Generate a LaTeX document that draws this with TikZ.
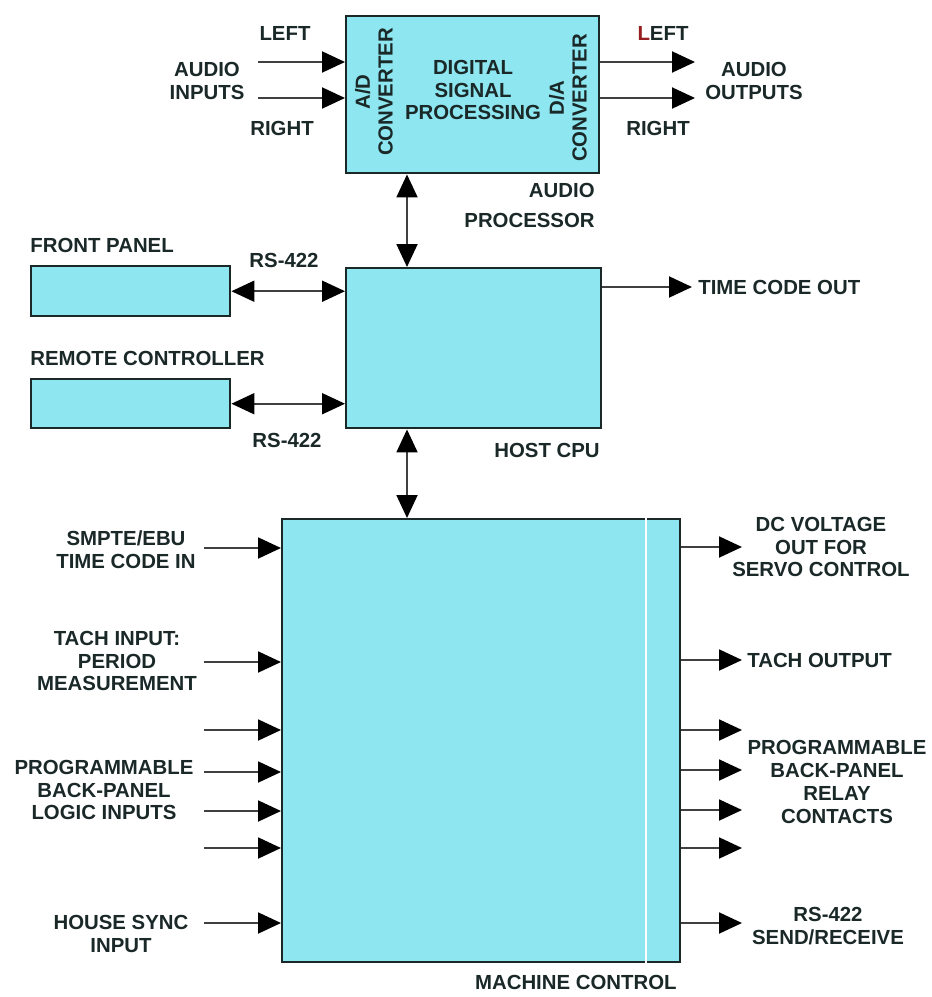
\documentclass[tikz,border=0pt]{standalone}
\usepackage{fontspec}
\setmainfont{Liberation Sans}
\usetikzlibrary{arrows.meta,positioning}

\definecolor{boxfill}{RGB}{142,230,240}
\definecolor{ink}{RGB}{26,40,40}
\definecolor{leftred}{RGB}{150,30,30}

\tikzset{
	block/.style={draw=ink, line width=1.4pt, fill=boxfill, inner sep=0pt, anchor=north west},
	sig/.style={line width=1.1pt, draw=black!75, -{Triangle[length=0.46cm,width=0.42cm,color=black]}},
	bisig/.style={line width=1.1pt, draw=black!75, {Triangle[length=0.46cm,width=0.42cm,color=black]}-{Triangle[length=0.46cm,width=0.42cm,color=black]}},
	lbl/.style={font=\bfseries\fontsize{11.6}{13}\selectfont, text=ink, align=center, inner sep=0pt},
}

\begin{document}
\begin{tikzpicture}[x=0.02cm, y=-0.02cm]
	\useasboundingbox (0,0) rectangle (931,997);

	% blocks
	\node[block, minimum width=5.06cm, minimum height=3.14cm] (audio) at (345,15) {};
	\node[block, minimum width=5.1cm, minimum height=3.2cm] (host) at (345,267) {};
	\node[block, minimum width=3.98cm, minimum height=1cm] (front) at (30,265) {};
	\node[block, minimum width=3.98cm, minimum height=0.98cm] (remote) at (30,378) {};
	\node[block, minimum width=7.96cm, minimum height=8.86cm] (mc) at (281,518) {};
	\draw[white, line width=0.8pt] (646,0 |- mc.north) -- (646,0 |- mc.south);

	% inside the audio processor
	\node[lbl] (dsp) at (473,90) {DIGITAL\\SIGNAL\\PROCESSING};
	\node[lbl, rotate=90] (adc) at (374,92) {A/D\\CONVERTER};
	\node[lbl, rotate=90] (dac) at (568,98) {D/A\\CONVERTER};

	% audio in and out
	\node[lbl] (inleft) at (285,33) {LEFT};
	\node[lbl] (audioin) at (207,81) {AUDIO\\INPUTS};
	\node[lbl] (inright) at (282,128) {RIGHT};
	\node[lbl] (outleft) at (663,33) {\textcolor{leftred}{L}EFT};
	\node[lbl] (audioout) at (754,81) {AUDIO\\OUTPUTS};
	\node[lbl] (outright) at (658,128) {RIGHT};
	\coordinate (inL) at (258,62);
	\coordinate (inR) at (258,98);
	\coordinate (outL) at (695,62);
	\coordinate (outR) at (695,98);
	\draw[sig] (inL) -- (inL -| audio.west);
	\draw[sig] (inR) -- (inR -| audio.west);
	\draw[sig] (outL -| audio.east) -- (outL);
	\draw[sig] (outR -| audio.east) -- (outR);

	\node[lbl, align=right, anchor=north east] (audiolbl) at (595,183) {AUDIO\\[4pt]PROCESSOR};
	\node[lbl, anchor=east] (hostlbl) at (600,450) {HOST CPU};
	\node[lbl, anchor=east] (mclbl) at (677,982) {MACHINE CONTROL};

	% host links
	\coordinate (bus) at (407,0);
	\draw[bisig] (bus |- audio.south) -- (bus |- host.north);
	\draw[bisig] (bus |- host.south) -- (bus |- mc.north);
	\node[lbl, anchor=west] (frontlbl) at (30,245) {FRONT PANEL};
	\node[lbl, anchor=west] (remotelbl) at (30,358) {REMOTE CONTROLLER};
	\node[lbl] (rsup) at (284,260) {RS-422};
	\node[lbl] (rsdown) at (287,440) {RS-422};
	\draw[bisig] (front.east) -- (front.east -| host.west);
	\draw[bisig] (remote.east) -- (remote.east -| host.west);
	\node[lbl, anchor=west] (tcout) at (698,287) {TIME CODE OUT};
	\draw[sig] (tcout.west -| host.east) -- ([xshift=-0.12cm]tcout.west);

	% machine control inputs
	\foreach \y in {548,662,730,772,811,848,923}{
		\coordinate (in\y) at (204,\y);
		\draw[sig] (in\y) -- (in\y -| mc.west);
	}
	\node[lbl] (smpte) at (126,550) {SMPTE/EBU\\TIME CODE IN};
	\node[lbl] (tachin) at (117,661) {TACH INPUT:\\PERIOD\\MEASUREMENT};
	\node[lbl] (logicin) at (104,790) {PROGRAMMABLE\\BACK-PANEL\\LOGIC INPUTS};
	\node[lbl] (housesync) at (121,934) {HOUSE SYNC\\INPUT};

	% machine control outputs
	\foreach \y in {547,660,730,770,810,848,923}{
		\coordinate (out\y) at (742,\y);
		\draw[sig] (out\y -| mc.east) -- (out\y);
	}
	\node[lbl] (dcout) at (821,547) {DC VOLTAGE\\OUT FOR\\SERVO CONTROL};
	\node[lbl, anchor=west] (tachout) at (747,660) {TACH OUTPUT};
	\node[lbl] (relays) at (837,782) {PROGRAMMABLE\\BACK-PANEL\\RELAY\\CONTACTS};
	\node[lbl] (rsio) at (828,926) {RS-422\\SEND/RECEIVE};
\end{tikzpicture}
\end{document}
